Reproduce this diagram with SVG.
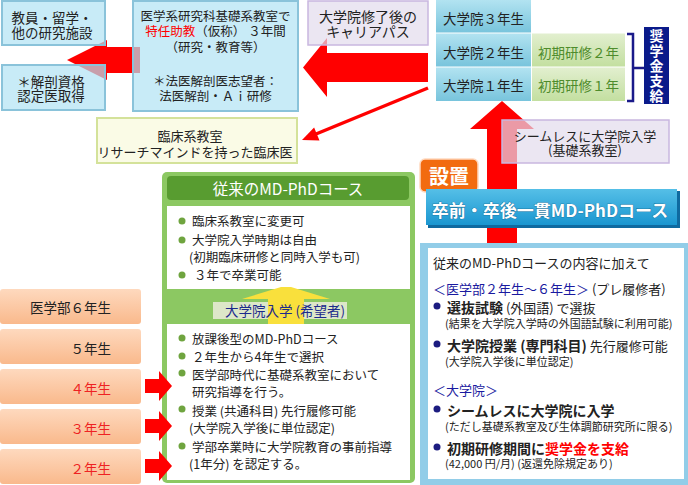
<svg xmlns="http://www.w3.org/2000/svg" width="688" height="485" viewBox="0 0 688 485">
<defs>
<linearGradient id="gBlue" x1="0" y1="0" x2="0" y2="1"><stop offset="0" stop-color="#b2e3f1"/><stop offset="1" stop-color="#78c4dc"/></linearGradient>
<linearGradient id="gGreen" x1="0" y1="0" x2="0" y2="1"><stop offset="0" stop-color="#e2efcf"/><stop offset="1" stop-color="#c3dfa0"/></linearGradient>
<linearGradient id="gOrange" x1="0" y1="0" x2="0" y2="1"><stop offset="0" stop-color="#fed9be"/><stop offset="1" stop-color="#f9b98c"/></linearGradient>
<linearGradient id="gBar" x1="0" y1="0" x2="0" y2="1"><stop offset="0" stop-color="#55bfe7"/><stop offset="1" stop-color="#1a96d0"/></linearGradient>
</defs>
<style>
text{font-family:"Noto Sans CJK JP","Noto Sans",sans-serif;fill:#222}
.c{text-anchor:middle}
.e{text-anchor:end}
.lb{fill:#b0e2f4;fill-opacity:.7;stroke:#8ac3da;stroke-width:2}
.lav{fill:#e3dcec;fill-opacity:.7;stroke:#c9b7df;stroke-width:1.5}
.red{fill:#ff0000}
.b{font-weight:bold}
.gdot{fill:#6fa43f}
.ndot{fill:#1c1c80}
.yr{fill:url(#gOrange)}
.gr{fill:url(#gBlue)}
.gn{fill:url(#gGreen)}
</style>

<!-- year boxes -->
<g id="year6"><rect class="yr" x="0" y="289" width="141" height="35" rx="3"/><text class="e" x="111" y="313" font-size="13.5">医学部６年生</text></g>
<g id="year5"><rect class="yr" x="0" y="329" width="141" height="35" rx="3"/><text class="e" x="111" y="354" font-size="13.5">５年生</text></g>
<g id="year4"><rect class="yr" x="0" y="369" width="141" height="35" rx="3"/><text class="e" x="111" y="394" font-size="13.5" style="fill:#ee2222">４年生</text></g>
<g id="year3"><rect class="yr" x="0" y="409" width="141" height="35" rx="3"/><text class="e" x="111" y="434" font-size="13.5" style="fill:#ee2222">３年生</text></g>
<g id="year2"><rect class="yr" x="0" y="449" width="141" height="35" rx="3"/><text class="e" x="111" y="474" font-size="13.5" style="fill:#ee2222">２年生</text></g>

<!-- conventional MD-PhD course -->
<g id="conventional">
<rect x="162" y="172" width="253" height="311" rx="5" fill="#8cc862"/>
<rect x="167" y="176" width="242" height="24" rx="4" fill="#589c30"/>
<text class="c" x="288" y="195" font-size="15.5" style="fill:#fff">従来のMD-PhDコース</text>
<rect x="167" y="206" width="243" height="83" fill="#fff"/>
<circle class="gdot" cx="182" cy="221" r="3.5"/>
<circle class="gdot" cx="182" cy="240" r="3.5"/>
<circle class="gdot" cx="182" cy="275" r="3.5"/>
<text font-size="12.5"><tspan x="192" y="226">臨床系教室に変更可</tspan><tspan x="192" y="245">大学院入学時期は自由</tspan><tspan x="189" y="262">(初期臨床研修と同時入学も可)</tspan><tspan x="194" y="280">３年で卒業可能</tspan></text>
<rect x="167" y="324" width="243" height="156" fill="#fff"/>
<circle class="gdot" cx="182" cy="338" r="3.5"/>
<circle class="gdot" cx="182" cy="356" r="3.5"/>
<circle class="gdot" cx="182" cy="373" r="3.5"/>
<circle class="gdot" cx="182" cy="409" r="3.5"/>
<circle class="gdot" cx="182" cy="446" r="3.5"/>
<text font-size="12.5"><tspan x="192" y="344">放課後型のMD-PhDコース</tspan><tspan x="192" y="362">２年生から4年生で選択</tspan><tspan x="192" y="380">医学部時代に基礎系教室において</tspan><tspan x="192" y="397">研究指導を行う。</tspan><tspan x="192" y="416">授業 (共通科目) 先行履修可能</tspan><tspan x="189" y="433">(大学院入学後に単位認定)</tspan><tspan x="192" y="452">学部卒業時に大学院教育の事前指導</tspan><tspan x="189" y="469">(1年分) を認定する。</tspan></text>
</g>

<!-- connectors -->
<g id="connectors">
<polygon class="red" points="67,60 107,40 107,47 140,47 140,73 107,73 107,80"/>
<polygon class="red" points="303,67.5 327,38 327,53 428,53 428,82 327,82 327,97"/>
<polygon class="red" points="502,101 534,129 517,129 517,244 487,244 487,129 470,129"/>
<line x1="428" y1="88" x2="316" y2="134" stroke="#ff0000" stroke-width="3.5"/>
<polygon class="red" points="302,140 319.5,140.4 314.1,127.4"/>
<polygon class="red" points="145,379 159,379 159,371 172,386 159,401 159,393 145,393"/>
<polygon class="red" points="145,419 159,419 159,411 172,426 159,441 159,433 145,433"/>
<polygon class="red" points="145,459 159,459 159,451 172,466 159,481 159,473 145,473"/>
<polygon points="281,287 291,287 330,299 304,299 304,324 268,324 268,299 242,299" fill="#f9e03c"/>
</g>

<g id="entry-label">
<rect x="213" y="302" width="55" height="17" fill="#dde7c8"/>
<rect x="304" y="302" width="43" height="17" fill="#dde7c8"/>
<text class="c" x="285" y="316" font-size="13.5" style="fill:#1c2a8c">大学院入学 (希望者)</text>
</g>

<g id="research-facility"><rect class="lb" x="2" y="1" width="103" height="44"/>
<text class="c" font-size="13.5"><tspan x="52" y="23">教員・留学・</tspan><tspan x="52" y="38">他の研究施設</tspan></text></g>
<g id="autopsy"><rect class="lb" x="2" y="65" width="103" height="45"/>
<text class="c" font-size="13.5"><tspan x="51" y="87">＊解剖資格</tspan><tspan x="51" y="101">認定医取得</tspan></text></g>
<g id="assistant-prof"><rect class="lb" x="133" y="1" width="165" height="110"/>
<text class="c" font-size="12.5"><tspan x="215.5" y="21">医学系研究科基礎系教室で</tspan><tspan x="215.5" y="36"><tspan style="fill:#ff0000">特任助教</tspan>（仮称） ３年間</tspan><tspan x="215.5" y="52">（研究・教育等）</tspan><tspan x="215.5" y="86">＊法医解剖医志望者：</tspan><tspan x="215.5" y="101">法医解剖・Ａｉ研修</tspan></text></g>
<g id="career"><rect class="lav" x="308" y="1" width="120" height="44"/>
<text class="c" font-size="14"><tspan x="368" y="22">大学院修了後の</tspan><tspan x="368" y="37">キャリアパス</tspan></text></g>

<g id="grad3"><rect class="gr" x="436" y="0" width="95" height="32.5"/><text class="c" x="483.5" y="24" font-size="13.5">大学院３年生</text></g>
<g id="grad2"><rect class="gr" x="436" y="33.5" width="95" height="33"/><text class="c" x="483.5" y="58" font-size="13.5">大学院２年生</text></g>
<g id="grad1"><rect class="gr" x="436" y="67.5" width="95" height="33.5"/><text class="c" x="483.5" y="91" font-size="13.5">大学院１年生</text></g>
<g id="training2"><rect class="gn" x="532" y="33.5" width="93" height="33"/><text class="c" x="578.5" y="58" font-size="13.5" style="fill:#4e8c2c">初期研修２年</text></g>
<g id="training1"><rect class="gn" x="532" y="67.5" width="93" height="33.5"/><text class="c" x="578.5" y="91" font-size="13.5" style="fill:#4e8c2c">初期研修１年</text></g>
<g id="scholarship">
<path d="M627,34 H633 V101 H627 M633,68 H645" fill="none" stroke="#1a1a8a" stroke-width="2.5"/>
<rect x="644" y="27" width="25" height="77" fill="#0a1a8a"/>
<text class="b" x="656.5" y="29" font-size="14" writing-mode="vertical-rl" letter-spacing="1" style="fill:#fff">奨学金支給</text>
</g>

<g id="clinical"><rect x="97" y="118" width="200" height="45" fill="#fafbe6" stroke="#d4e29a" stroke-width="2"/>
<text class="c" font-size="13"><tspan x="190" y="141">臨床系教室</tspan><tspan x="195" y="157">リサーチマインドを持った臨床医</tspan></text></g>

<g id="seamless"><rect class="lav" x="502" y="120" width="167" height="43"/>
<text class="c" font-size="13"><tspan x="585" y="141">シームレスに大学院入学</tspan><tspan x="585" y="155">(基礎系教室)</tspan></text></g>

<g id="setup"><rect x="420" y="159" width="58" height="33" rx="5" fill="#f26b10" stroke="#ffd9bf" stroke-width="1.5"/>
<text class="c b" x="449" y="184" font-size="20" style="fill:#fff">設置</text></g>

<g id="integrated-course">
<rect x="428" y="191" width="252" height="37" fill="#0f6aa0"/>
<rect x="426" y="189" width="251" height="36" fill="url(#gBar)"/>
<text class="c b" x="550" y="217" font-size="17" style="fill:#fff;stroke:#0a5a88;stroke-width:0.6;paint-order:stroke">卒前・卒後一貫MD-PhDコース</text>
</g>

<g id="course-content">
<rect x="420" y="243" width="268" height="242" fill="#92cde8"/>
<rect x="428" y="248" width="256" height="231" fill="#fff"/>
<circle class="ndot" cx="437" cy="306" r="3.5"/>
<circle class="ndot" cx="437" cy="344" r="3.5"/>
<circle class="ndot" cx="437" cy="409" r="3.5"/>
<circle class="ndot" cx="437" cy="447" r="3.5"/>
<text font-size="13"><tspan x="433" y="268">従来のMD-PhDコースの内容に加えて</tspan><tspan x="433" y="294"><tspan style="fill:#1a1aa0">＜医学部２年生～６年生＞</tspan> (プレ履修者)</tspan><tspan x="447" y="313"><tspan class="b" font-size="14">選抜試験</tspan> (外国語) で選抜</tspan><tspan x="445" y="328" font-size="11">(結果を大学院入学時の外国語試験に利用可能)</tspan><tspan x="447" y="351"><tspan class="b" font-size="14">大学院授業 (専門科目)</tspan> 先行履修可能</tspan><tspan x="445" y="366" font-size="11">(大学院入学後に単位認定)</tspan><tspan x="433" y="395" style="fill:#1a1aa0">＜大学院＞</tspan><tspan x="447" y="416" class="b" font-size="14">シームレスに大学院に入学</tspan><tspan x="445" y="431" font-size="11">(ただし基礎系教室及び生体調節研究所に限る)</tspan><tspan x="447" y="454" class="b" font-size="14">初期研修期間に<tspan style="fill:#ff0000">奨学金を支給</tspan></tspan><tspan x="445" y="468" font-size="11">(42,000 円/月) (返還免除規定あり)</tspan></text>
</g>
</svg>
